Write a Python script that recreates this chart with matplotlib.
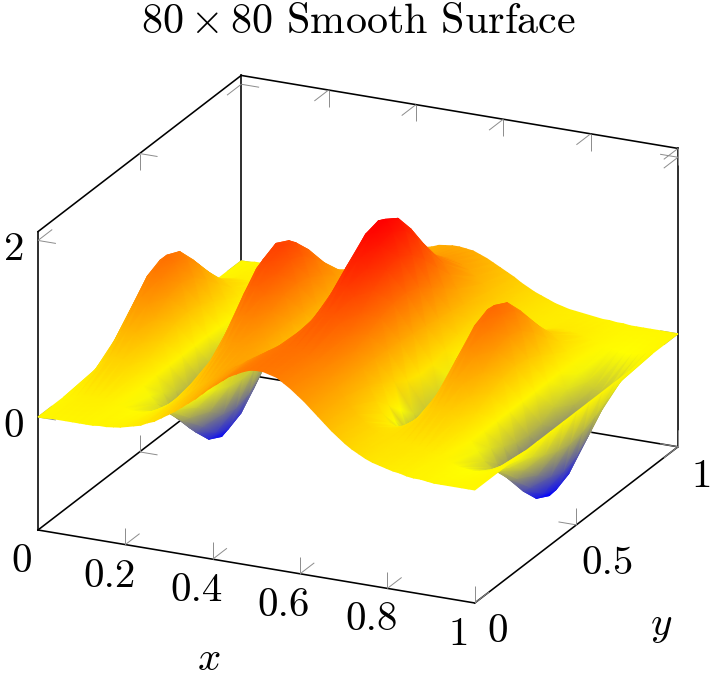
import numpy as np
import matplotlib
matplotlib.use("Agg")
import matplotlib.pyplot as plt
import matplotlib.tri as mtri
from matplotlib.collections import TriMesh
from matplotlib.colors import LinearSegmentedColormap, Normalize
from mpl_toolkits.mplot3d import proj3d

plt.rcParams['mathtext.fontset'] = 'cm'
plt.rcParams['mathtext.default'] = 'rm'
plt.rcParams['axes.unicode_minus'] = False

TITLE = r"$80\times 80$ Smooth Surface"
x_ticks = [0.2, 0.4, 0.6, 0.8, 1.0]
x_labels = ["0", "0.2", "0.4", "0.6", "0.8", "1"]
x_label_pos = [0, 0.2, 0.4, 0.6, 0.8, 1]
y_label_pos = [0, 0.5, 1]
y_labels = ["0", "0.5", "1"]
z_ticks = [0, 2]
z_labels = ["0", "2"]
Z_MIN, Z_MAX = -1.28, 2.10

# surface heights on a lattice, 65 columns in x, one pair of lists per y:
# z_* holds the columns x = k/32, h_* the columns between them
x_grid = [k / 64 for k in range(65)]
y_grid = [0, 0.125, 0.25, 0.3125, 0.375, 0.4375, 0.5, 0.5625, 0.625, 0.6875, 0.75, 0.875, 1]
z_y0000 = [0.00,0.01,0.01,0.01,0.01,0.02,0.04,0.08,0.14,0.22,0.32,0.44,0.57,0.70,0.82,0.90,0.94,0.92,0.85,0.74,0.61,0.47,0.34,0.23,0.15,0.10,0.06,0.03,0.02,0.00,0.00,0.00,0.00]
h_y0000 = [0.00,0.01,0.01,0.01,0.02,0.03,0.06,0.10,0.17,0.27,0.38,0.50,0.64,0.76,0.86,0.93,0.94,0.90,0.80,0.68,0.54,0.40,0.28,0.19,0.12,0.08,0.05,0.02,0.01,0.00,0.00,0.00]
z_y0125 = [0.00,0.04,0.06,0.05,0.01,-0.02,-0.01,0.05,0.15,0.27,0.40,0.51,0.61,0.70,0.81,0.91,0.98,1.00,0.94,0.81,0.63,0.44,0.29,0.20,0.16,0.14,0.11,0.07,0.02,-0.04,-0.06,-0.04,0.00]
h_y0125 = [0.02,0.06,0.06,0.03,0.00,-0.02,0.01,0.09,0.21,0.33,0.45,0.56,0.66,0.76,0.86,0.95,1.00,0.98,0.88,0.72,0.53,0.36,0.24,0.17,0.15,0.13,0.10,0.04,-0.01,-0.05,-0.05,-0.02]
z_y0250 = [0.00,0.20,0.29,0.21,0.01,-0.17,-0.23,-0.11,0.15,0.44,0.63,0.68,0.63,0.57,0.60,0.77,1.00,1.17,1.18,0.97,0.63,0.28,0.06,0.04,0.15,0.30,0.34,0.23,0.01,-0.20,-0.28,-0.20,0.00]
h_y0250 = [0.11,0.27,0.27,0.12,-0.09,-0.22,-0.19,0.01,0.30,0.55,0.68,0.66,0.59,0.57,0.67,0.88,1.10,1.20,1.10,0.81,0.44,0.15,0.03,0.08,0.23,0.34,0.31,0.13,-0.10,-0.26,-0.26,-0.11]
z_y0312 = [0.00,0.35,0.50,0.36,0.02,-0.32,-0.44,-0.26,0.16,0.59,0.85,0.84,0.63,0.42,0.39,0.62,1.00,1.32,1.38,1.11,0.62,0.12,-0.15,-0.12,0.15,0.44,0.55,0.38,0.01,-0.34,-0.49,-0.35,0.00]
h_y0312 = [0.19,0.46,0.46,0.20,-0.17,-0.42,-0.39,-0.07,0.38,0.75,0.87,0.75,0.51,0.38,0.48,0.80,1.18,1.39,1.28,0.88,0.36,-0.05,-0.17,0.00,0.31,0.53,0.50,0.21,-0.18,-0.45,-0.46,-0.19]
z_y0375 = [0.00,0.52,0.74,0.52,0.02,-0.49,-0.68,-0.42,0.16,0.76,1.08,1.00,0.63,0.25,0.15,0.44,0.98,1.47,1.60,1.26,0.61,-0.05,-0.40,-0.29,0.15,0.61,0.78,0.54,0.01,-0.51,-0.73,-0.52,0.00]
h_y0375 = [0.28,0.68,0.68,0.29,-0.26,-0.64,-0.60,-0.16,0.48,0.97,1.09,0.83,0.42,0.15,0.25,0.70,1.26,1.59,1.49,0.96,0.26,-0.28,-0.40,-0.10,0.39,0.74,0.71,0.30,-0.27,-0.67,-0.67,-0.28]
z_y0437 = [0.00,0.66,0.93,0.66,0.02,-0.62,-0.87,-0.56,0.16,0.89,1.27,1.13,0.62,0.10,-0.06,0.29,0.97,1.59,1.77,1.38,0.59,-0.20,-0.60,-0.43,0.14,0.74,0.97,0.68,0.01,-0.65,-0.92,-0.65,0.00]
h_y0437 = [0.36,0.86,0.86,0.37,-0.33,-0.81,-0.78,-0.23,0.55,1.15,1.26,0.90,0.33,-0.04,0.06,0.61,1.31,1.75,1.65,1.01,0.17,-0.47,-0.59,-0.18,0.46,0.92,0.89,0.37,-0.34,-0.85,-0.85,-0.35]
z_y0500 = [0.00,0.71,1.00,0.71,0.02,-0.68,-0.95,-0.61,0.15,0.94,1.34,1.18,0.61,0.03,-0.15,0.21,0.94,1.61,1.82,1.41,0.57,-0.27,-0.69,-0.50,0.14,0.79,1.05,0.73,0.01,-0.70,-1.00,-0.71,0.00]
h_y0500 = [0.38,0.93,0.93,0.39,-0.36,-0.88,-0.85,-0.26,0.57,1.21,1.33,0.92,0.29,-0.13,-0.04,0.55,1.31,1.79,1.69,1.02,0.12,-0.55,-0.67,-0.21,0.49,0.99,0.96,0.40,-0.37,-0.92,-0.92,-0.38]
z_y0562 = [0.00,0.66,0.93,0.66,0.02,-0.63,-0.87,-0.56,0.15,0.89,1.26,1.11,0.59,0.06,-0.10,0.24,0.91,1.53,1.72,1.33,0.55,-0.24,-0.63,-0.45,0.13,0.73,0.97,0.68,0.01,-0.65,-0.92,-0.65,0.00]
h_y0562 = [0.36,0.86,0.86,0.36,-0.33,-0.81,-0.78,-0.24,0.54,1.13,1.25,0.88,0.30,-0.08,0.01,0.55,1.25,1.69,1.59,0.97,0.13,-0.50,-0.61,-0.19,0.45,0.91,0.89,0.37,-0.35,-0.85,-0.85,-0.35]
z_y0625 = [0.00,0.52,0.73,0.52,0.01,-0.49,-0.68,-0.43,0.15,0.74,1.06,0.96,0.57,0.17,0.06,0.34,0.87,1.35,1.49,1.16,0.52,-0.12,-0.45,-0.33,0.12,0.59,0.77,0.54,0.01,-0.51,-0.73,-0.52,0.00]
h_y0625 = [0.28,0.68,0.68,0.29,-0.26,-0.64,-0.61,-0.17,0.46,0.95,1.06,0.79,0.35,0.07,0.15,0.59,1.14,1.48,1.38,0.86,0.18,-0.34,-0.44,-0.13,0.37,0.73,0.71,0.30,-0.27,-0.67,-0.67,-0.28]
z_y0687 = [0.00,0.35,0.50,0.36,0.01,-0.32,-0.45,-0.26,0.14,0.57,0.81,0.78,0.55,0.31,0.26,0.46,0.83,1.14,1.21,0.96,0.49,0.02,-0.23,-0.17,0.11,0.42,0.53,0.37,0.01,-0.34,-0.49,-0.35,0.00]
h_y0687 = [0.19,0.46,0.46,0.20,-0.17,-0.42,-0.39,-0.08,0.37,0.72,0.82,0.68,0.42,0.26,0.33,0.64,1.00,1.21,1.12,0.74,0.24,-0.14,-0.24,-0.05,0.28,0.51,0.49,0.20,-0.18,-0.45,-0.46,-0.19]
z_y0750 = [0.00,0.20,0.29,0.21,0.01,-0.18,-0.24,-0.12,0.14,0.41,0.58,0.61,0.52,0.42,0.43,0.57,0.78,0.95,0.96,0.77,0.46,0.14,-0.04,-0.04,0.11,0.27,0.32,0.22,0.01,-0.20,-0.28,-0.20,0.00]
h_y0750 = [0.11,0.27,0.27,0.12,-0.09,-0.23,-0.20,0.00,0.28,0.52,0.61,0.57,0.46,0.41,0.48,0.67,0.88,0.98,0.89,0.62,0.29,0.03,-0.06,0.02,0.19,0.31,0.29,0.12,-0.10,-0.26,-0.26,-0.11]
z_y0875 = [0.00,0.04,0.06,0.05,0.01,-0.02,-0.02,0.03,0.12,0.23,0.33,0.40,0.46,0.51,0.57,0.63,0.68,0.69,0.64,0.53,0.39,0.25,0.15,0.10,0.09,0.10,0.09,0.06,0.01,-0.04,-0.06,-0.04,0.00]
h_y0875 = [0.02,0.06,0.06,0.03,-0.01,-0.02,0.00,0.07,0.17,0.28,0.37,0.43,0.48,0.54,0.60,0.66,0.69,0.67,0.59,0.46,0.32,0.19,0.12,0.09,0.09,0.10,0.08,0.03,-0.02,-0.05,-0.05,-0.02]
z_y1000 = [0.00,0.01,0.01,0.01,0.01,0.02,0.03,0.06,0.11,0.16,0.23,0.31,0.39,0.47,0.52,0.56,0.57,0.55,0.49,0.41,0.33,0.24,0.17,0.11,0.07,0.05,0.03,0.02,0.01,0.00,0.00,0.00,0.00]
h_y1000 = [0.00,0.01,0.01,0.01,0.01,0.02,0.04,0.08,0.13,0.20,0.27,0.35,0.43,0.50,0.55,0.57,0.56,0.52,0.45,0.37,0.28,0.20,0.14,0.09,0.06,0.04,0.02,0.01,0.00,0.00,0.00,0.00]
z_rows = [z_y0000, z_y0125, z_y0250, z_y0312, z_y0375, z_y0437, z_y0500, z_y0562,
          z_y0625, z_y0687, z_y0750, z_y0875, z_y1000]
h_rows = [h_y0000, h_y0125, h_y0250, h_y0312, h_y0375, h_y0437, h_y0500, h_y0562,
          h_y0625, h_y0687, h_y0750, h_y0875, h_y1000]

W, H = 713, 676
BOX = "black"
TICK = "#8c8c8c"
FS = 29.5
FS_TITLE = 30.3
FONT = ["cmr10", "DejaVu Serif"]

fig = plt.figure(figsize=(W / 100, H / 100), dpi=100)
ax = fig.add_axes([0, 0, 1, 1], projection="3d", proj_type="ortho", computed_zorder=False)
ax.set_axis_off()
ax.view_init(elev=21, azim=-65)
ax.set_xlim(0, 1)
ax.set_ylim(0, 1)
ax.set_zlim(Z_MIN, Z_MAX)
aspect = (481, 480, 319)


def project(x, y, z):
    px, py, _ = proj3d.proj_transform(x, y, z, ax.get_proj())
    return px, py


def to_pixels(x, y, z):
    return ax.transData.transform(np.array(project(x, y, z)))


# fit the box so two opposite corners land where the reference has them
ax.set_box_aspect(aspect, zoom=1)
ax.apply_aspect()
a, b = to_pixels(0, 0, Z_MIN), to_pixels(1, 1, Z_MAX)
ax.set_box_aspect(aspect, zoom=(678 - 38) / (b[0] - a[0]))
ax.apply_aspect()
a = to_pixels(0, 0, Z_MIN)
shift = np.array([38, H - 530]) - a
ax.set_position([shift[0] / W, shift[1] / H, 1, 1])
ax.apply_aspect()


def seg(x, y, z, **kw):
    ax.plot(x, y, z, clip_on=False, zorder=1, **kw)


edges = [((0, 0), (0, 0), (Z_MIN, Z_MAX)), ((0, 0), (0, 1), (Z_MAX, Z_MAX)),
         ((0, 1), (1, 1), (Z_MAX, Z_MAX)), ((1, 1), (1, 1), (Z_MAX, Z_MIN)),
         ((0, 0), (1, 1), (Z_MAX, Z_MIN)), ((0, 1), (0, 0), (Z_MIN, Z_MIN)),
         ((1, 1), (0, 1), (Z_MIN, Z_MIN)), ((0, 0), (0, 1), (Z_MIN, Z_MIN)),
         ((0, 1), (1, 1), (Z_MIN, Z_MIN))]
for ex, ey, ez in edges:
    seg(ex, ey, ez, color=BOX, lw=1.15, solid_capstyle="projecting")

TX, TY, TZ = 0.041, 0.07, 0.19
tick_kw = dict(color=TICK, lw=0.7, solid_capstyle="butt")
for t in x_ticks:
    seg((t, t), (0, 0), (Z_MIN, Z_MIN + TZ), **tick_kw)
    seg((t, t), (0, TY), (Z_MIN, Z_MIN), **tick_kw)
    seg((t, t), (1, 1), (Z_MAX, Z_MAX - TZ), **tick_kw)
    seg((t, t), (1, 1 - TY), (Z_MAX, Z_MAX), **tick_kw)
    seg((t, t), (1, 1), (Z_MIN, Z_MIN + TZ), **tick_kw)
    seg((t, t), (1, 1 - TY), (Z_MIN, Z_MIN), **tick_kw)
for t in y_label_pos[1:]:
    seg((1, 1), (t, t), (Z_MIN, Z_MIN + TZ), **tick_kw)
    seg((1, 1 - TX), (t, t), (Z_MIN, Z_MIN), **tick_kw)
for t in y_label_pos[1:2]:
    seg((0, 0), (t, t), (Z_MAX, Z_MAX - TZ), **tick_kw)
    seg((0, TX), (t, t), (Z_MAX, Z_MAX), **tick_kw)
    seg((0, 0), (t, t), (Z_MIN, Z_MIN + TZ), **tick_kw)
    seg((0, TX), (t, t), (Z_MIN, Z_MIN), **tick_kw)
for t in z_ticks:
    for cx, cy, sx, sy in [(0, 0, 1, 1), (0, 1, 1, -1), (1, 1, -1, -1)]:
        seg((cx, cx + sx * TX), (cy, cy), (t, t), **tick_kw)
        seg((cx, cx), (cy, cy + sy * TY), (t, t), **tick_kw)


class SurfaceMesh(TriMesh):
    def do_3d_projection(self):
        return 0


X, Y = np.meshgrid(x_grid, y_grid)
Z = np.zeros(X.shape)
Z[:, ::2] = np.array(z_rows)
Z[:, 1::2] = np.array(h_rows)
px, py = project(X.ravel(), Y.ravel(), Z.ravel())
ny, nx = Z.shape
tris = []
for j in range(ny - 2, -1, -1):      # far rows first
    for i in range(nx - 1):          # low x is farther in this view
        p00 = j * nx + i
        p10 = p00 + 1
        p01 = p00 + nx
        p11 = p01 + 1
        tris.append((p01, p11, p00))
        tris.append((p11, p10, p00))

cmap = LinearSegmentedColormap.from_list(
    "pgf_hot", [(0, 0, 1), (1, 1, 0), (1, 0.5, 0), (1, 0, 0)], N=1024)
mesh = SurfaceMesh(mtri.Triangulation(np.asarray(px), np.asarray(py), np.array(tris)),
                   cmap=cmap, norm=Normalize(Z.min(), Z.max()), zorder=2, clip_on=False)
mesh.set_array(Z.ravel())
ax.add_collection(mesh, autolim=False)


def label(x, y, z, text, dx, dy):
    ax.annotate(text, xy=project(x, y, z), xycoords="data", xytext=(dx, dy),
                textcoords="offset pixels", ha="center", va="center",
                fontsize=FS, family=FONT, annotation_clip=False, zorder=3)


for t, s in zip(x_label_pos, x_labels):
    label(t, 0, Z_MIN, s, -16, -32)
for t, s, off in zip(y_label_pos, y_labels, [(23, -29), (31, -39), (24, -30)]):
    label(1, t, Z_MIN, s, off[0], off[1])
for t, s in zip(z_ticks, z_labels):
    label(0, 0, t, s, -24, -10)
label(0.5, 0, Z_MIN, r"$\mathit{x}$", -48, -94)
label(1, 0.5, Z_MIN, r"$\mathit{y}$", 85, -102)

fig.text(358 / W, 1 - 22 / H, TITLE, ha="center", va="center", fontsize=FS_TITLE, family=FONT)

fig.savefig("out.png", dpi=100)
